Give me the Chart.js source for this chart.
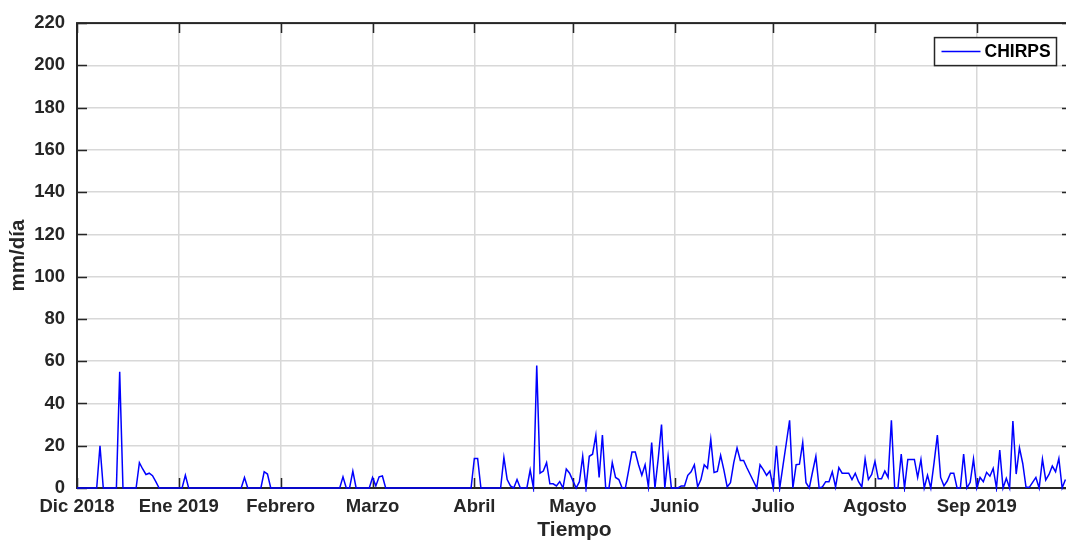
<!DOCTYPE html>
<html>
<head>
<meta charset="utf-8">
<script src="https://cdn.jsdelivr.net/npm/chart.js@4/dist/chart.umd.min.js"></script>
<style>
  html, body { margin: 0; padding: 0; background: #ffffff; overflow: hidden; }
  #wrap { width: 1080px; height: 541px; }
</style>
</head>
<body>
<div id="wrap"><canvas id="c" width="1080" height="541"></canvas></div>
<script>
// Daily CHIRPS precipitation (mm/día), one array per month, 1 Dic 2018 onward
const dic2018 = [0,0,0,0,0,0,0,20,0,0,0,0,0,55,0,0,0,0,0,12,9,6.4,7,5.8,3,0,0,0,0,0,0];
const ene2019 = [0,0,6,0,0,0,0,0,0,0,0,0,0,0,0,0,0,0,0,0,5,0,0,0,0,0,7.7,6.6,0,0,0];
const feb2019 = [0,0,0,0,0,0,0,0,0,0,0,0,0,0,0,0,0,0,0,5.3,0,0,8,0,0,0,0,0];
const mar2019 = [5,1,5.3,5.7,0,0,0,0,0,0,0,0,0,0,0,0,0,0,0,0,0,0,0,0,0,0,0,0,0,0,0];
const abr2019 = [14,14,0,0,0,0,0,0,0,14.5,4,1,0,4,0,0,0,8.5,0,58,7,8,12,2,2,1,3,0,9,7];
const may2019 = [3.5,0,3,15,0,15,16,25,5,25,0,0,12,5,4,0,0,8.5,17,17,11,6,11,0.5,21.5,0,14,30,0,15,0];
const jun2019 = [0,0,1,1,6,7.7,11,0.5,4,11,9.3,23,7.3,7.8,15.5,8.5,0.5,2.5,12,19,13,13,9.6,6.4,3.2,0,11,8.7,6,8];
const jul2019 = [0,20,0,10.7,21.3,32,0,11,11.3,21.5,2.5,0,7.7,15,0,0.5,3,3,7.7,0.5,9.6,7,7,7,4,7,3,0.5,13.7,4,6.4];
const ago2019 = [12.6,4.4,4.4,8,5,32,0,0,16,0,13.5,13.5,13.5,5,13.5,0,6,0,12,25,5,1,3.3,7,7,0,0,16,0,2.7,13.7];
const sep2019 = [0,5,3,7.4,5.6,9.3,0,18,0,4.6,0,31.7,6.6,19,11.6,0.3,0.3,2.7,5,0,13.7,3.8,6.4,10.4,7.7,14,0,4];

// Axis ticks: first day of each month (days since 1 Dic 2018) and their labels
const monthStartDays = [0, 31, 62, 90, 121, 151, 182, 212, 243, 274];
const monthLabels = ['Dic 2018', 'Ene 2019', 'Febrero', 'Marzo', 'Abril', 'Mayo', 'Junio', 'Julio', 'Agosto', 'Sep 2019'];
const lastDay = 303; // 30 Sep 2019
const yMax = 220;
const yStep = 20;

const seriesName = 'CHIRPS';
const chirps = [].concat(dic2018, ene2019, feb2019, mar2019, abr2019, may2019, jun2019, jul2019, ago2019, sep2019);
const points = chirps.map((v, i) => ({ x: i, y: v }));

const ink = '#262626';
const fontFamily = '"Liberation Sans", Arial, Helvetica, sans-serif';

// Box around the plot area plus inward tick marks on all four sides
const frameTicks = {
  id: 'frameTicks',
  beforeDatasetsDraw(chart) {
    const { ctx, chartArea: a, scales: { x, y } } = chart;
    const len = 10;
    ctx.save();
    ctx.strokeStyle = ink;
    ctx.lineWidth = 1.5;
    ctx.beginPath();
    x.ticks.forEach(t => {
      const p = Math.round(x.getPixelForValue(t.value)) + 0.5;
      ctx.moveTo(p, a.bottom); ctx.lineTo(p, a.bottom - len);
      ctx.moveTo(p, a.top); ctx.lineTo(p, a.top + len);
    });
    y.ticks.forEach(t => {
      const p = Math.round(y.getPixelForValue(t.value)) + 0.5;
      ctx.moveTo(a.left, p); ctx.lineTo(a.left + len, p);
      ctx.moveTo(a.right, p); ctx.lineTo(a.right - len, p);
    });
    ctx.stroke();
    ctx.lineWidth = 2;
    ctx.strokeRect(a.left, a.top, a.right - a.left, a.bottom - a.top);
    ctx.restore();
  }
};

// Boxed legend in the upper right corner of the plot
const boxedLegend = {
  id: 'boxedLegend',
  afterDraw(chart) {
    const { ctx, chartArea: a } = chart;
    const ds = chart.data.datasets[0];
    const w = 122, h = 28;
    const bx = a.right - 137.5, by = a.top + 14.5;
    ctx.save();
    ctx.fillStyle = '#ffffff';
    ctx.fillRect(bx, by, w, h);
    ctx.strokeStyle = ink;
    ctx.lineWidth = 1.5;
    ctx.strokeRect(bx, by, w, h);
    const my = by + h / 2;
    ctx.strokeStyle = ds.borderColor;
    ctx.lineWidth = 1.5;
    ctx.beginPath();
    ctx.moveTo(bx + 7, my);
    ctx.lineTo(bx + 46, my);
    ctx.stroke();
    ctx.fillStyle = '#000000';
    ctx.font = 'bold 17.5px ' + fontFamily;
    ctx.textAlign = 'left';
    ctx.textBaseline = 'middle';
    ctx.fillText(ds.label, bx + 50, my + 1);
    ctx.restore();
  }
};

new Chart(document.getElementById('c'), {
  type: 'line',
  data: {
    datasets: [{
      label: seriesName,
      data: points,
      borderColor: '#0000ff',
      borderWidth: 1.5,
      pointRadius: 0,
      tension: 0,
      fill: false,
      clip: 4
    }]
  },
  options: {
    responsive: false,
    animation: false,
    events: [],
    layout: { padding: { top: 21, right: 8, left: 0, bottom: 0 } },
    plugins: {
      legend: { display: false },
      tooltip: { enabled: false }
    },
    scales: {
      x: {
        type: 'linear',
        min: 0,
        max: lastDay,
        afterBuildTicks(scale) {
          scale.ticks = monthStartDays.map(v => ({ value: v }));
        },
        afterFit(scale) { scale.height = 53; },
        ticks: {
          autoSkip: false,
          maxRotation: 0,
          padding: 8,
          color: ink,
          font: { family: fontFamily, size: 18.5, weight: 'bold' },
          callback: (value) => monthLabels[monthStartDays.indexOf(value)]
        },
        grid: { color: '#d8d8d8', lineWidth: 1.5, drawTicks: false },
        border: { display: false },
        title: {
          display: true,
          text: 'Tiempo',
          color: ink,
          padding: 0,
          font: { family: fontFamily, size: 21, weight: 'bold', lineHeight: 1 }
        }
      },
      y: {
        min: 0,
        max: yMax,
        afterFit(scale) { scale.width = 77; },
        ticks: {
          stepSize: yStep,
          padding: 12,
          color: ink,
          font: { family: fontFamily, size: 18.5, weight: 'bold' }
        },
        grid: { color: '#d8d8d8', lineWidth: 1.5, drawTicks: false },
        border: { display: false },
        title: {
          display: true,
          text: 'mm/día',
          color: ink,
          padding: { top: 6, bottom: 0 },
          font: { family: fontFamily, size: 20.5, weight: 'bold' }
        }
      }
    }
  },
  plugins: [frameTicks, boxedLegend]
});
</script>
</body>
</html>
